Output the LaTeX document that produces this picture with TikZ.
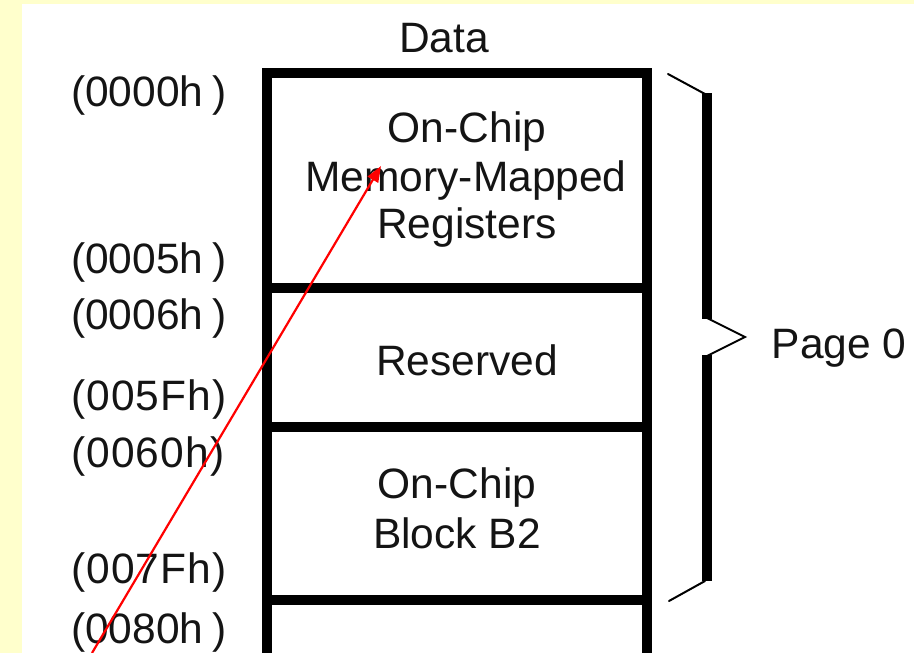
\documentclass[tikz,border=0pt]{standalone}
\usepackage{fontspec}
\setmainfont{Liberation Sans}
\usetikzlibrary{arrows.meta}
\definecolor{pagebg}{RGB}{255,255,204}
\definecolor{ink}{RGB}{20,20,20}
\newcommand{\addrgap}{\hspace{9.5pt}}
\newcommand{\addrwide}{\addfontfeature{LetterSpace=2.6}}
\begin{document}
\begin{tikzpicture}[x=1pt,y=-1pt,
  lbl/.style={font=\fontsize{42.5}{48}\selectfont, text=ink, inner sep=0pt, anchor=base},
  addr/.style={lbl, anchor=base west},
  wall/.style={line width=10pt, black},
  thinline/.style={line width=2pt, black, line cap=round},
  pointer/.style={red, line width=2.2pt, -{Triangle[length=16pt,width=12pt]}}]
  % page and background
  \useasboundingbox (0,0) rectangle (914,653);
  \fill[pagebg] (0,0) rectangle (914,653);
  \fill[white] (22,4) rectangle (914,653);

  % memory map column
  \draw[wall, line join=miter] (267,653) -- (267,73) -- (647,73) -- (647,653);
  \draw[wall] (267,288) -- (647,288);
  \draw[wall] (267,427) -- (647,427);
  \draw[wall] (267,600) -- (647,600);

  % column title and block contents
  \node[lbl] (title) at (444,52) {Data};
  \node[lbl] (mmrA) at (467,142) {On-Chip};
  \node[lbl] (mmrB) at (466,191) {Memory-Mapped};
  \node[lbl] (mmrC) at (467,238) {Registers};
  \node[lbl] (resv) at (467,375) {Reserved};
  \node[lbl] (btwoA) at (457,498) {On-Chip};
  \node[lbl] (btwoB) at (457,548) {Block B2};

  % addresses
  \node[addr] (a0000) at (71,106) {(0000h\addrgap)};
  \node[addr] (a0005) at (71,273) {(0005h\addrgap)};
  \node[addr] (a0006) at (71,329) {(0006h\addrgap)};
  \node[addr] (a005F) at (71,410) {\addrwide(005Fh)};
  \node[addr] (a0060) at (71,467) {\addrwide(0060h)};
  \node[addr] (a007F) at (71,583) {\addrwide(007Fh)};
  \node[addr] (a0080) at (71,643) {(0080h\addrgap)};

  % page brace
  \draw[thinline] (668,74) -- (705,94);
  \draw[wall] (707,93) -- (707,319);
  \draw[thinline] (707,318) -- (745,337) -- (707,356);
  \draw[wall] (707,355) -- (707,581);
  \draw[thinline] (705,581) -- (669,601);
  \node[lbl] (page) at (839,358) {Page 0};

  % red pointer
  \coordinate (arrowtail) at (92,653);
  \coordinate (arrowtip) at (381,166);
  \draw[pointer] (arrowtail) -- (arrowtip);
\end{tikzpicture}
\end{document}
